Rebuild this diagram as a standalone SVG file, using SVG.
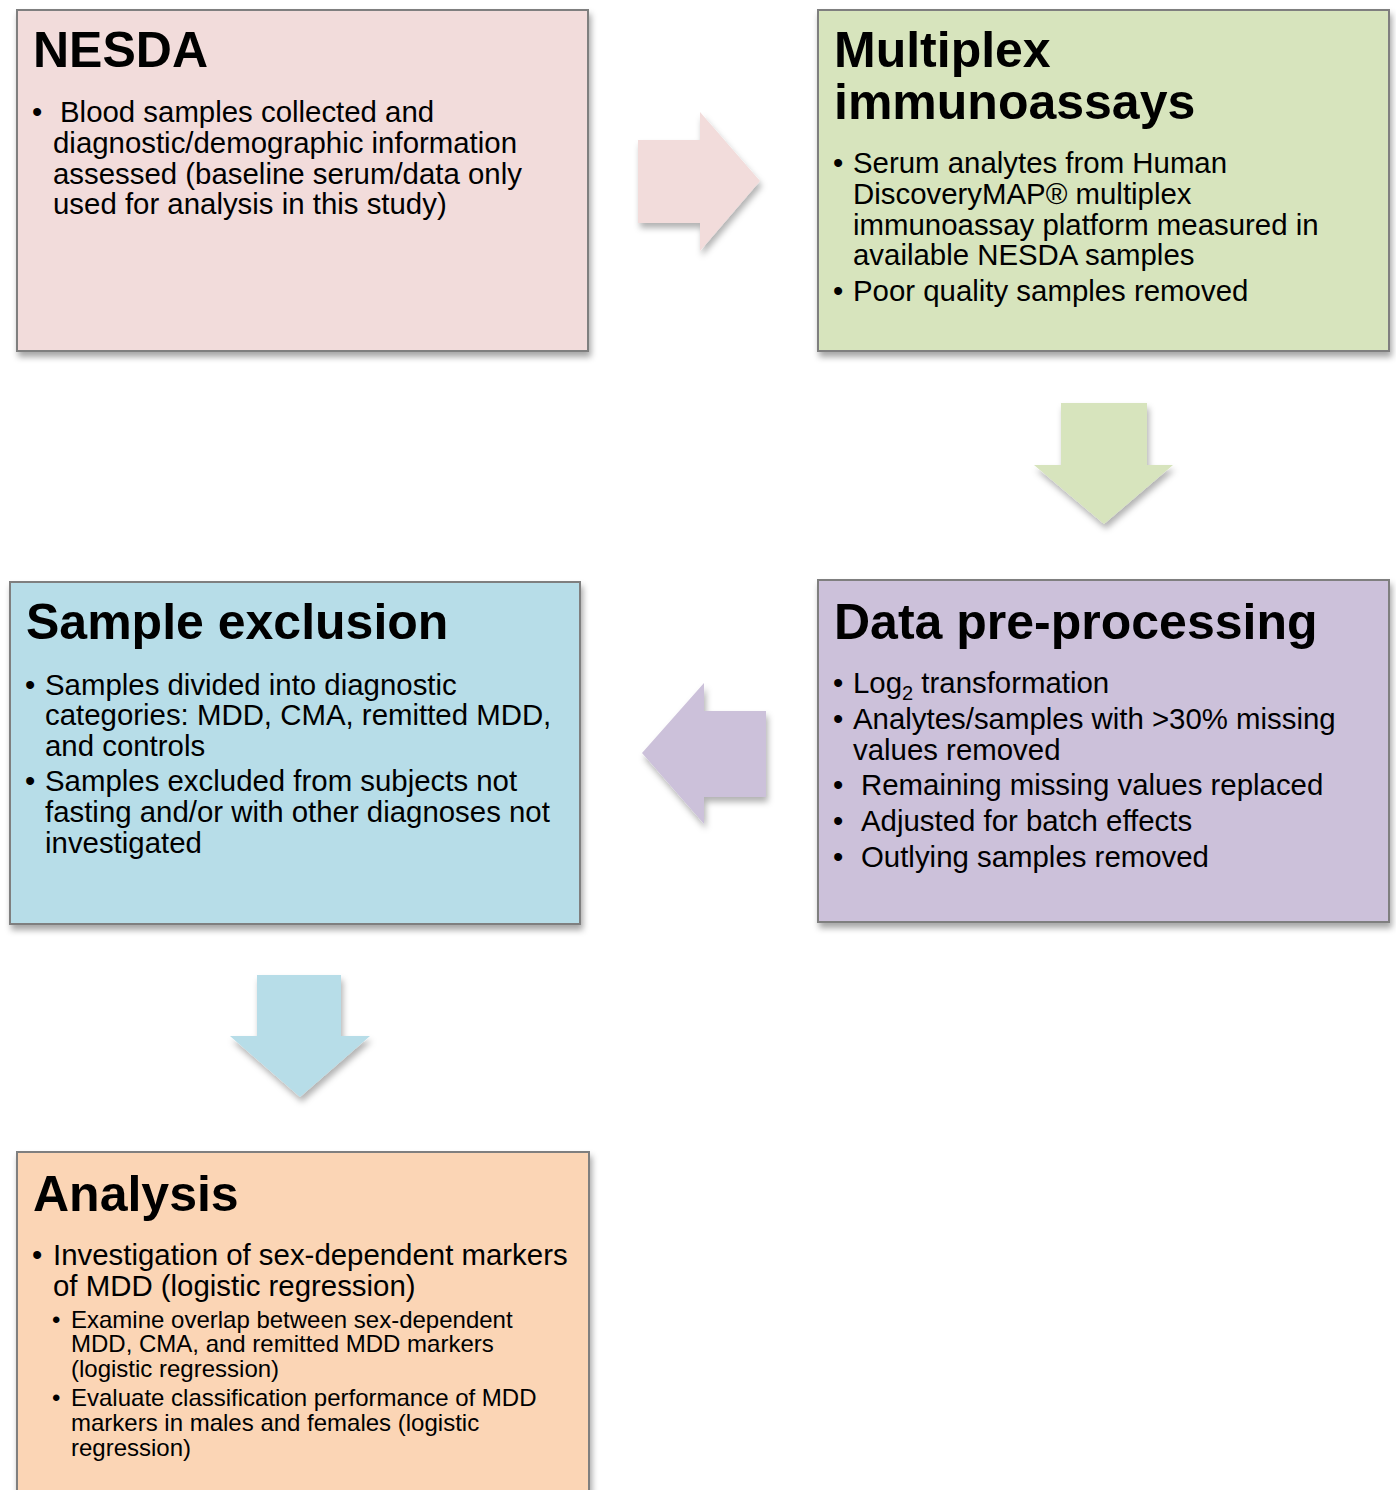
<svg xmlns="http://www.w3.org/2000/svg" width="1396" height="1490" viewBox="0 0 1396 1490">
<style>
.box{stroke:#7f7f7f;stroke-width:2;filter:url(#sh)}
.arr{filter:url(#sh2)}
.t{font-family:"Liberation Sans",Arial,sans-serif;font-weight:bold;font-size:50px;fill:#000}
.b{font-family:"Liberation Sans",Arial,sans-serif;font-size:29.4px;fill:#000}
.s{font-family:"Liberation Sans",Arial,sans-serif;font-size:24px;fill:#000}
</style>
<defs>
<filter id="sh" x="-5%" y="-5%" width="115%" height="120%">
<feDropShadow dx="2" dy="5" stdDeviation="3" flood-color="#000" flood-opacity="0.35"/>
</filter>
<filter id="sh2" x="-20%" y="-20%" width="150%" height="150%">
<feDropShadow dx="2" dy="5" stdDeviation="3" flood-color="#000" flood-opacity="0.3"/>
</filter>
</defs>
<rect width="1396" height="1490" fill="#fff"/>
<g id="connectors">
<polygon class="arr" fill="#f2dcdb" points="638,140 700,140 700,112 760,181 700,251 700,223 638,223"/>
<polygon class="arr" fill="#d7e4bd" points="1061,403 1147,403 1147,465 1173,465 1104,524 1034,465 1061,465"/>
<polygon class="arr" fill="#ccc1da" points="766,711 704,711 704,683 642,753 704,824 704,797 766,797"/>
<polygon class="arr" fill="#b7dde8" points="257,975 341,975 341,1036 370,1036 300,1097 230,1036 257,1036"/>
</g>
<g id="nesda">
<rect class="box" x="17" y="10" width="571" height="341" fill="#f2dcdb"/>
<text class="t" x="33" y="67">NESDA</text>
<text class="b" x="32" y="122">•</text>
<text class="b" x="60" y="122">Blood samples collected and</text>
<text class="b" x="53" y="153">diagnostic/demographic information</text>
<text class="b" x="53" y="184">assessed (baseline serum/data only</text>
<text class="b" x="53" y="214">used for analysis in this study)</text>
</g>
<g id="multiplex">
<rect class="box" x="818" y="10" width="571" height="341" fill="#d7e4bd"/>
<text class="t" x="834" y="67">Multiplex</text>
<text class="t" x="834" y="119">immunoassays</text>
<text class="b" x="833" y="173">•</text>
<text class="b" x="853" y="173">Serum analytes from Human</text>
<text class="b" x="853" y="204">DiscoveryMAP® multiplex</text>
<text class="b" x="853" y="235">immunoassay platform measured in</text>
<text class="b" x="853" y="265">available NESDA samples</text>
<text class="b" x="833" y="301">•</text>
<text class="b" x="853" y="301">Poor quality samples removed</text>
</g>
<g id="preprocessing">
<rect class="box" x="818" y="580" width="571" height="342" fill="#ccc1da"/>
<text class="t" x="834" y="639">Data pre-processing</text>
<text class="b" x="833" y="693">•</text>
<text class="b" x="853" y="693">Log<tspan font-size="20" dy="7">2</tspan><tspan dy="-7"> transformation</tspan></text>
<text class="b" x="833" y="729">•</text>
<text class="b" x="853" y="729">Analytes/samples with &gt;30% missing</text>
<text class="b" x="853" y="760">values removed</text>
<text class="b" x="833" y="795">•</text>
<text class="b" x="861" y="795">Remaining missing values replaced</text>
<text class="b" x="833" y="831">•</text>
<text class="b" x="861" y="831">Adjusted for batch effects</text>
<text class="b" x="833" y="867">•</text>
<text class="b" x="861" y="867">Outlying samples removed</text>
</g>
<g id="exclusion">
<rect class="box" x="10" y="582" width="570" height="342" fill="#b7dde8"/>
<text class="t" x="26" y="639">Sample exclusion</text>
<text class="b" x="25" y="695">•</text>
<text class="b" x="45" y="695">Samples divided into diagnostic</text>
<text class="b" x="45" y="725">categories: MDD, CMA, remitted MDD,</text>
<text class="b" x="45" y="756">and controls</text>
<text class="b" x="25" y="791">•</text>
<text class="b" x="45" y="791">Samples excluded from subjects not</text>
<text class="b" x="45" y="822">fasting and/or with other diagnoses not</text>
<text class="b" x="45" y="853">investigated</text>
</g>
<g id="analysis">
<rect class="box" x="17" y="1152" width="572" height="360" fill="#fbd5b5"/>
<text class="t" x="33" y="1211">Analysis</text>
<text class="b" x="32" y="1265">•</text>
<text class="b" x="53" y="1265">Investigation of sex-dependent markers</text>
<text class="b" x="53" y="1296">of MDD (logistic regression)</text>
<text class="s" x="52" y="1328">•</text>
<text class="s" x="71" y="1328">Examine overlap between sex-dependent</text>
<text class="s" x="71" y="1352">MDD, CMA, and remitted MDD markers</text>
<text class="s" x="71" y="1377">(logistic regression)</text>
<text class="s" x="52" y="1406">•</text>
<text class="s" x="71" y="1406">Evaluate classification performance of MDD</text>
<text class="s" x="71" y="1431">markers in males and females (logistic</text>
<text class="s" x="71" y="1456">regression)</text>
</g>
</svg>
